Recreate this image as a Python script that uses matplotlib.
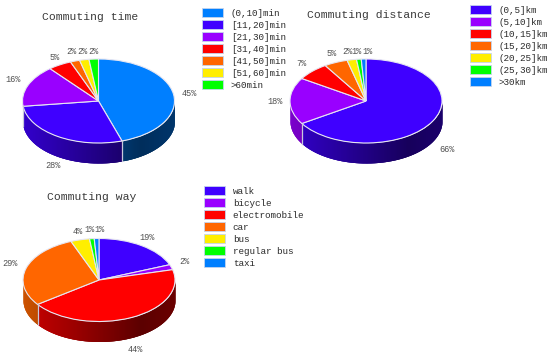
"""Three pseudo-3D commuting pies."""

import matplotlib

matplotlib.use("Agg")
import matplotlib.pyplot as plt
import numpy as np
from matplotlib.patches import Patch

W, H = 550, 356
FONT = "Liberation Mono"

BLUE = "#007FFF"
INDIGO = "#3F00FF"
VIOLET = "#9900FF"
RED = "#FF0000"
ORANGE = "#FF6600"
YELLOW = "#FFEE00"
GREEN = "#00FF00"

time_labels = ["(0,10]min", "[11,20]min", "[21,30]min", "[31,40]min", "[41,50]min", "[51,60]min", ">60min"]
time_values = [45, 28, 16, 5, 2, 2, 2]
time_colors = [BLUE, INDIGO, VIOLET, RED, ORANGE, YELLOW, GREEN]

dist_labels = ["(0,5]km", "(5,10]km", "(10,15]km", "(15,20]km", "(20,25]km", "(25,30]km", ">30km"]
dist_values = [66, 18, 7, 5, 2, 1, 1]
dist_colors = [INDIGO, VIOLET, RED, ORANGE, YELLOW, GREEN, BLUE]

way_labels = ["walk", "bicycle", "electromobile", "car", "bus", "regular bus", "taxi"]
way_values = [19, 2, 44, 29, 4, 1, 1]
way_colors = [INDIGO, VIOLET, RED, ORANGE, YELLOW, GREEN, BLUE]

# label centres in image pixels
time_pct_xy = [(189, 94), (53, 166), (13, 79), (55, 57), (71, 52), (82, 51), (93, 51)]
dist_pct_xy = [(447, 150), (275, 102), (301, 64), (332, 54), (347, 51), (357, 51), (367.5, 51)]
way_pct_xy = [(147, 237), (184, 261), (135, 349), (10, 263), (78, 231), (89.5, 230), (100, 230)]


def shade(color, cos_t):
    rgb = np.array(matplotlib.colors.to_rgb(color))
    return tuple(rgb * np.interp(cos_t, [-1, 0.55, 1], [0.8, 0.36, 0.42]))


def pie3d(fig, values, colors, cx, cy, rx=76, ry=42, depth=20):
    pad = 1.05
    d = depth / ry
    low = -1 - d - 0.05
    left = (cx - pad * rx) / W
    bottom = 1 - (cy + (-low) * ry) / H
    ax = fig.add_axes([left, bottom, 2 * pad * rx / W, (pad - low) * ry / H])
    ax.pie(
        values,
        colors=colors,
        startangle=90,
        counterclock=False,
        radius=1,
        wedgeprops={"edgecolor": "#E6E6F2", "linewidth": 0.8},
    )
    # side wall, overlapping slices so no seams show through the shading
    edges = 90 - np.cumsum([0] + list(values)) * 3.6
    for start, stop, color in zip(edges[::-1][1:], edges[::-1][:-1], colors[::-1]):
        for a in np.arange(stop, start, 1.0):
            t = np.radians(np.linspace(a, min(a + 3.0, start), 5))
            if np.sin(t).max() > 1e-6:
                continue
            ax.fill_between(np.cos(t), np.sin(t), np.sin(t) - d, color=shade(color, np.cos(t[:2]).mean()), lw=0, zorder=0)
    for a in edges:
        t = np.radians(a)
        if np.sin(t) < 0:
            ax.plot([np.cos(t)] * 2, [np.sin(t), np.sin(t) - d], color="#C8C8DC", lw=0.9, zorder=1)
    ax.set_aspect("auto")
    ax.set_xlim(-pad, pad)
    ax.set_ylim(low, pad)
    ax.axis("off")
    return ax


def put_text(fig, x, y, s, size, color="#3A3A3A"):
    fig.text(x / W, 1 - y / H, s, fontsize=size, color=color, ha="center", va="center", family=FONT)


def put_legend(fig, labels, colors, x, y):
    handles = [Patch(facecolor=c, edgecolor="#C4D4EE", linewidth=0.6) for c in colors]
    fig.legend(
        handles,
        labels,
        loc="upper left",
        bbox_to_anchor=(x / W, 1 - y / H),
        frameon=False,
        prop={"family": FONT, "size": 6.7},
        handlelength=2.25,
        handleheight=1.15,
        handletextpad=0.85,
        labelspacing=0.24,
        borderpad=0,
        borderaxespad=0,
        labelcolor="#2A2A2A",
    )


def main():
    fig = plt.figure(figsize=(W / 100, H / 100), dpi=100, facecolor="white")

    pie3d(fig, time_values, time_colors, 98.5, 101)
    pie3d(fig, dist_values, dist_colors, 366, 101)
    pie3d(fig, way_values, way_colors, 99, 280, ry=41.5)

    put_text(fig, 90, 17, "Commuting time", 8.2)
    put_text(fig, 369, 15, "Commuting distance", 8.2)
    put_text(fig, 92, 197, "Commuting way", 8.2)

    for values, spots in [(time_values, time_pct_xy), (dist_values, dist_pct_xy), (way_values, way_pct_xy)]:
        for v, (x, y) in zip(values, spots):
            put_text(fig, x, y, f"{v}%", 6.2, color="#505050")

    put_legend(fig, time_labels, time_colors, 202, 8)
    put_legend(fig, dist_labels, dist_colors, 470, 5)
    put_legend(fig, way_labels, way_colors, 204, 186)

    fig.savefig("out.png", dpi=100)
    plt.close(fig)


if __name__ == "__main__":
    main()
